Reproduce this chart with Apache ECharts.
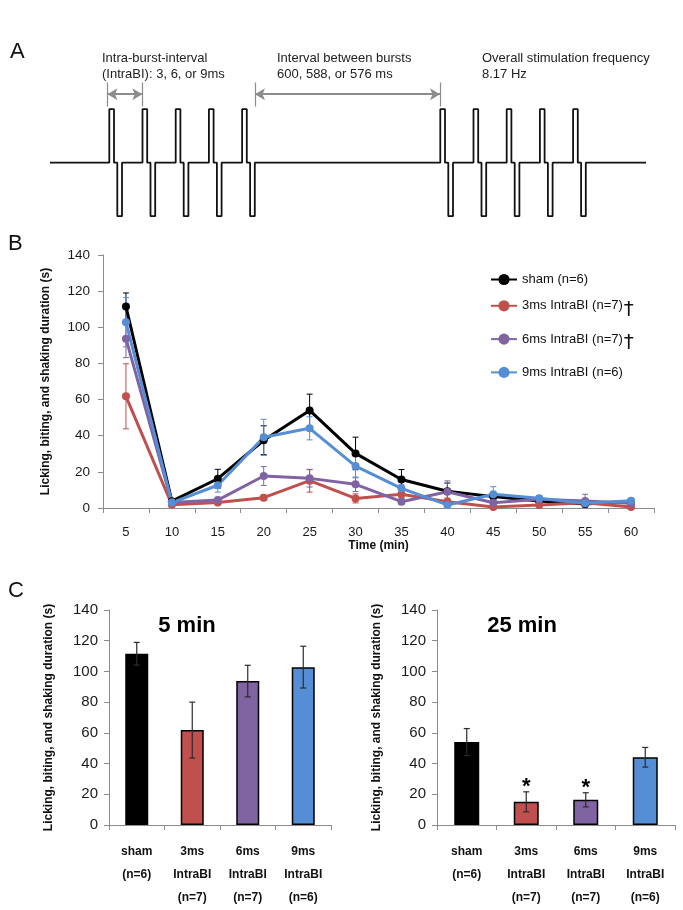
<!DOCTYPE html>
<html>
<head>
<meta charset="utf-8">
<script src="https://cdn.jsdelivr.net/npm/echarts@6/dist/echarts.min.js"></script>
<style>
html,body{margin:0;padding:0;background:#fff;}
#chart{width:683px;height:910px;}
</style>
</head>
<body>
<div id="chart"></div>
<script>
// ---------- Panel A: schematic pulse train (schematic time units) ----------
var waveStart = 50, waveEnd = 646;
var burstStarts = [109.3, 440.3];
var intraBurstStep = 33.2;
var pulsesPerBurst = 5;
var pulseWidth = 4.7;
var phaseGap = 3.3;
var arrowLevel = 1.28;
var intraArrow = [107.5, 142.3];
var betweenArrow = [255, 440];

// ---------- Panel B: time course ----------
var times = ['5','10','15','20','25','30','35','40','45','50','55','60'];
var seriesNames = ['sham (n=6)', '3ms IntraBI (n=7)', '6ms IntraBI (n=7)', '9ms IntraBI (n=6)'];
var daggers = [false, true, true, false];
var seriesColors = ['#000000', '#c0504d', '#8064a2', '#558ed5'];
var sham   = [111.5, 3.8, 16.2, 37.5, 54.0, 30.2, 15.8, 9.3, 6.3, 3.9, 2.2, 3.6];
var shamErr= [7.5, 1.0, 5.2, 8.0, 9.0, 9.0, 5.5, 4.5, 2.0, 1.5, 1.0, 1.0];
var ms3    = [61.8, 1.8, 3.1, 5.7, 15.1, 5.3, 7.6, 3.5, 0.5, 1.7, 2.9, 0.5];
var ms3Err = [18.0, 0.8, 1.5, 1.5, 6.3, 2.5, 2.0, 2.0, 0.5, 1.0, 1.0, 0.5];
var ms6    = [93.7, 3.0, 4.4, 17.7, 16.4, 13.1, 3.5, 9.0, 2.9, 4.8, 3.9, 2.6];
var ms6Err = [10.5, 1.0, 1.5, 5.2, 4.8, 4.0, 1.5, 6.0, 1.5, 1.5, 3.7, 1.0];
var ms9    = [102.8, 3.0, 12.6, 39.1, 44.1, 23.2, 10.9, 1.7, 7.6, 5.4, 2.6, 4.0];
var ms9Err = [13.6, 1.0, 3.8, 10.0, 6.4, 6.5, 2.0, 1.0, 4.2, 1.5, 1.0, 1.0];
var yTicksMax = 140, yTickStep = 20;

// ---------- Panel C: bars ----------
var groupLabels = ['sham\n(n=6)', '3ms\nIntraBI\n(n=7)', '6ms\nIntraBI\n(n=7)', '9ms\nIntraBI\n(n=6)'];
var bar5 = [111.5, 61.8, 93.7, 102.8];
var bar5Err = [7.4, 18.2, 10.3, 13.6];
var bar25 = [54.0, 15.1, 16.4, 44.1];
var bar25Err = [8.8, 6.5, 4.6, 6.4];
var sig25 = ['', '*', '*', ''];

// ---------- build ----------
var FONT = "'Liberation Sans', Arial, sans-serif";
var waveData = [[waveStart, 0]];
burstStarts.forEach(function (b) {
  for (var k = 0; k < pulsesPerBurst; k++) {
    var t = b + k * intraBurstStep;
    var t1 = t + pulseWidth, t2 = t1 + phaseGap, t3 = t2 + pulseWidth;
    waveData.push([t,0],[t,1],[t1,1],[t1,0],[t2,0],[t2,-1],[t3,-1],[t3,0]);
  }
});
waveData.push([waveEnd, 0]);

function errData(vals, errs) {
  return vals.map(function (v, i) { return [i, Math.max(0, v - errs[i]), v + errs[i]]; });
}
function errRender(color, capHalf, lw, sigs) {
  return function (params, api) {
    var i = api.value(0);
    var lo = api.coord([i, api.value(1)]);
    var hi = api.coord([i, api.value(2)]);
    var x = hi[0];
    var st = { stroke: color, lineWidth: lw };
    var ch = [
      { type: 'line', shape: { x1: x, y1: lo[1], x2: x, y2: hi[1] }, style: st },
      { type: 'line', shape: { x1: x - capHalf, y1: hi[1], x2: x + capHalf, y2: hi[1] }, style: st },
      { type: 'line', shape: { x1: x - capHalf, y1: lo[1], x2: x + capHalf, y2: lo[1] }, style: st }
    ];
    if (sigs && sigs[params.dataIndex]) {
      ch.push({ type: 'text', style: { text: sigs[params.dataIndex], x: x, y: hi[1] - 5,
        align: 'center', verticalAlign: 'middle', fontSize: 22, fontWeight: 'bold', fill: '#000', fontFamily: FONT } });
    }
    return { type: 'group', children: ch };
  };
}

var axisGray = '#8c8c8c';
function valueY(grid, fs, margin, gap) {
  return {
    gridIndex: grid, type: 'value', min: 0, max: yTicksMax, interval: yTickStep,
    axisLine: { show: true, lineStyle: { color: axisGray, width: 1 } },
    axisTick: { show: true, length: 5, lineStyle: { color: axisGray } },
    splitLine: { show: false },
    axisLabel: { fontSize: fs, color: '#1a1a1a', margin: margin, fontFamily: FONT },
    name: 'Licking, biting, and shaking duration (s)', nameLocation: 'middle', nameGap: gap, nameRotate: 90,
    nameTextStyle: { fontSize: 12, fontWeight: 'bold', color: '#111', fontFamily: FONT }
  };
}
function catX(grid, data, extra) {
  var a = {
    gridIndex: grid, type: 'category', data: data, boundaryGap: true,
    axisLine: { lineStyle: { color: axisGray, width: 1 } },
    axisTick: { show: true, alignWithLabel: false, length: 5, interval: 0, lineStyle: { color: axisGray } },
    axisLabel: { interval: 0, fontFamily: FONT, color: '#1a1a1a' }
  };
  for (var k in extra) { a[k] = extra[k]; }
  return a;
}

var lineVals = [sham, ms3, ms6, ms9];
var lineErrs = [shamErr, ms3Err, ms6Err, ms9Err];
var series = [];
series.push({
  type: 'line', xAxisIndex: 0, yAxisIndex: 0, data: waveData, symbol: 'none', silent: true,
  lineStyle: { color: '#111', width: 1.8 },
  markLine: {
    silent: true, symbol: ['arrow', 'arrow'], symbolSize: [9, 10],
    lineStyle: { color: '#8c8c8c', width: 2, type: 'solid' }, label: { show: false },
    data: [
      [{ coord: [intraArrow[0], arrowLevel] }, { coord: [intraArrow[1], arrowLevel] }],
      [{ coord: [betweenArrow[0], arrowLevel] }, { coord: [betweenArrow[1], arrowLevel] }]
    ]
  }
});
series.push({
  type: 'line', xAxisIndex: 0, yAxisIndex: 0, data: [], symbol: 'none', silent: true,
  markLine: {
    silent: true, symbol: ['none', 'none'],
    lineStyle: { color: '#8c8c8c', width: 1.2, type: 'solid' }, label: { show: false },
    data: [intraArrow[0], intraArrow[1], betweenArrow[0], betweenArrow[1]].map(function (x) {
      return [{ coord: [x, 1.05] }, { coord: [x, 1.5] }];
    })
  }
});
lineVals.forEach(function (vals, s) {
  series.push({
    type: 'custom', xAxisIndex: 1, yAxisIndex: 1, silent: true, z: 1,
    data: errData(vals, lineErrs[s]), encode: { x: 0, y: [1, 2] },
    renderItem: errRender(seriesColors[s], 3, 1, null), itemStyle: { opacity: 0.85 }
  });
});
lineVals.forEach(function (vals, s) {
  series.push({
    type: 'line', name: seriesNames[s], xAxisIndex: 1, yAxisIndex: 1, data: vals, z: 3,
    symbol: 'circle', symbolSize: 8, color: seriesColors[s],
    itemStyle: { color: seriesColors[s] }, lineStyle: { color: seriesColors[s], width: 3 }
  });
});
function barItems(vals) {
  return vals.map(function (v, i) { return { value: v, itemStyle: { color: seriesColors[i] } }; });
}
series.push({
  type: 'bar', name: 'bars5', xAxisIndex: 2, yAxisIndex: 2, data: barItems(bar5), barWidth: 23,
  itemStyle: { borderColor: '#000', borderWidth: 1.5 }
});
series.push({
  type: 'custom', xAxisIndex: 2, yAxisIndex: 2, silent: true, z: 5,
  data: errData(bar5, bar5Err), encode: { x: 0, y: [1, 2] }, renderItem: errRender('#2b2b2b', 3, 1.2, null)
});
series.push({
  type: 'bar', name: 'bars25', xAxisIndex: 3, yAxisIndex: 3, data: barItems(bar25), barWidth: 25,
  itemStyle: { borderColor: '#000', borderWidth: 1.5 }
});
series.push({
  type: 'custom', xAxisIndex: 3, yAxisIndex: 3, silent: true, z: 5,
  data: errData(bar25, bar25Err), encode: { x: 0, y: [1, 2] }, renderItem: errRender('#2b2b2b', 3, 1.2, sig25)
});

var catLabelC = { fontWeight: 'bold', fontSize: 12, lineHeight: 23, margin: 15, interval: 0, color: '#111', fontFamily: FONT };

var option = {
  animation: false,
  backgroundColor: '#fff',
  textStyle: { fontFamily: FONT },
  grid: [
    { left: 0, top: 66.4, width: 683, height: 160.5 },
    { left: 103, top: 255, width: 551, height: 253 },
    { left: 109, top: 610, width: 222, height: 215 },
    { left: 437, top: 610, width: 238, height: 215 }
  ],
  xAxis: [
    { gridIndex: 0, type: 'value', min: 0, max: 683, show: false },
    catX(1, times, {
      axisLabel: { interval: 0, fontSize: 13, margin: 18, color: '#1a1a1a', fontFamily: FONT },
      name: 'Time (min)', nameLocation: 'middle', nameGap: 32,
      nameTextStyle: { fontSize: 12, fontWeight: 'bold', color: '#111', fontFamily: FONT }
    }),
    catX(2, groupLabels, { axisLabel: catLabelC }),
    catX(3, groupLabels, { axisLabel: catLabelC })
  ],
  yAxis: [
    { gridIndex: 0, type: 'value', min: -1.2, max: 1.8, show: false },
    valueY(1, 13.5, 13, 51),
    valueY(2, 15, 11, 54),
    valueY(3, 15, 11, 54)
  ],
  legend: {
    data: seriesNames, orient: 'vertical', left: 490, top: 273, padding: 0,
    itemWidth: 26, itemHeight: 14, itemGap: 13.3,
    textStyle: { fontSize: 13, color: '#111', fontFamily: FONT,
      rich: { d: { fontSize: 20, fontFamily: "'DejaVu Sans', sans-serif", padding: [7, 0, 0, 1], color: '#111' } } },
    formatter: function (name) {
      var i = seriesNames.indexOf(name);
      return name + (daggers[i] ? '{d|†}' : '');
    }
  },
  graphic: [
    { type: 'text', left: 10, top: 41, style: { text: 'A', fontSize: 22, fill: '#111', fontFamily: FONT } },
    { type: 'text', left: 8, top: 233, style: { text: 'B', fontSize: 22, fill: '#111', fontFamily: FONT } },
    { type: 'text', left: 8, top: 580, style: { text: 'C', fontSize: 22, fill: '#111', fontFamily: FONT } },
    { type: 'text', left: 102, top: 51, style: { text: 'Intra-burst-interval\n(IntraBI): 3, 6, or 9ms', fontSize: 13, lineHeight: 15.5, fill: '#222', fontFamily: FONT } },
    { type: 'text', left: 277, top: 51, style: { text: 'Interval between bursts\n600, 588, or 576 ms', fontSize: 13, lineHeight: 15.5, fill: '#222', fontFamily: FONT } },
    { type: 'text', left: 482, top: 51, style: { text: 'Overall stimulation frequency\n8.17 Hz', fontSize: 13, lineHeight: 15.5, fill: '#222', fontFamily: FONT } },
    { type: 'text', x: 187, y: 626, style: { text: '5 min', fontSize: 22, fontWeight: 'bold', fill: '#000', align: 'center', verticalAlign: 'middle', fontFamily: FONT } },
    { type: 'text', x: 522, y: 626, style: { text: '25 min', fontSize: 22, fontWeight: 'bold', fill: '#000', align: 'center', verticalAlign: 'middle', fontFamily: FONT } }
  ],
  series: series
};
var chart = echarts.init(document.getElementById('chart'), null, { renderer: 'canvas' });
chart.setOption(option);
</script>
</body>
</html>
